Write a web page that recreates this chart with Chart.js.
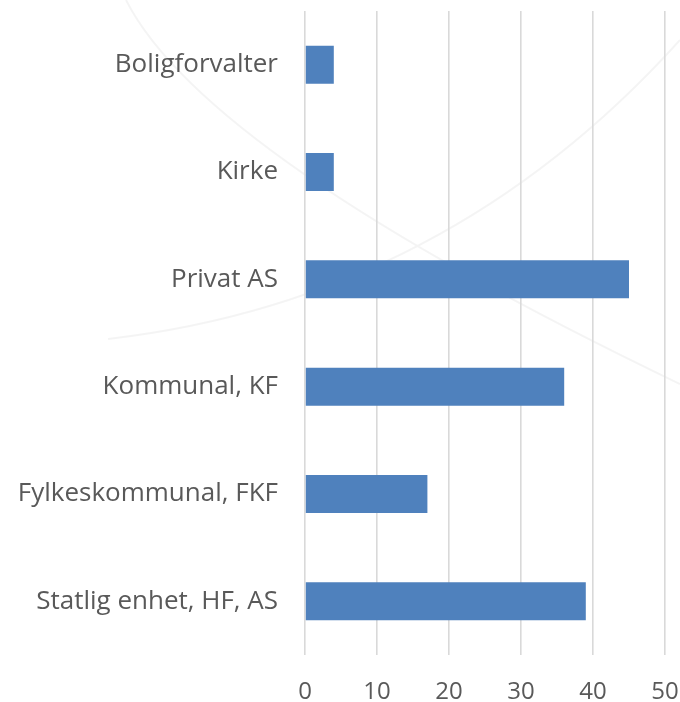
<!DOCTYPE html>
<html>
<head>
<meta charset="utf-8">
<script src="https://cdn.jsdelivr.net/npm/chart.js@4"></script>
<style>
  html, body { margin: 0; padding: 0; background: #fff; }
  #wrap { width: 680px; height: 702px; }
</style>
</head>
<body>
<div id="wrap"><canvas id="chart"></canvas></div>
<script>
// data
const categories = ['Boligforvalter', 'Kirke', 'Privat AS', 'Kommunal, KF', 'Fylkeskommunal, FKF', 'Statlig enhet, HF, AS'];
const values = [4, 4, 45, 36, 17, 39];
const xTicks = [0, 10, 20, 30, 40, 50];

const FONT = "'Open Sans', 'Liberation Sans', sans-serif";
const TEXT = '#595959';

// faint background swooshes (slide watermark)
const swoosh = {
  id: 'swoosh',
  beforeDraw(chart) {
    const c = chart.ctx;
    c.save();
    c.strokeStyle = 'rgba(0,0,0,0.045)';
    c.lineWidth = 2;
    c.beginPath();
    c.moveTo(126, 0);
    c.quadraticCurveTo(205, 156, 680, 384);
    c.moveTo(108, 339);
    c.quadraticCurveTo(446, 300, 680, 40);
    c.stroke();
    c.restore();
  }
};

const ctx = document.getElementById('chart').getContext('2d');
new Chart(ctx, {
  type: 'bar',
  data: {
    labels: categories,
    datasets: [{
      data: values,
      backgroundColor: '#4F81BD',
      borderWidth: 0,
      barPercentage: 0.354,
      categoryPercentage: 1
    }]
  },
  options: {
    indexAxis: 'y',
    responsive: true,
    maintainAspectRatio: false,
    animation: false,
    layout: { padding: { top: 0, right: 15, left: 0, bottom: 0 } },
    plugins: { legend: { display: false }, tooltip: { enabled: false } },
    scales: {
      x: {
        min: 0, max: 50,
        afterBuildTicks: s => { s.ticks = xTicks.map(v => ({ value: v })); },
        afterFit: s => { s.height = 47; },
        grid: { color: '#d9d9d9', lineWidth: 1.6, drawTicks: true, tickLength: 23, tickColor: 'transparent' },
        border: { display: false },
        ticks: { color: TEXT, padding: 0, font: { family: FONT, size: 24 } }
      },
      y: {
        afterFit: s => { s.width = 305; },
        grid: { display: true, drawOnChartArea: false, drawTicks: true, tickLength: 27, tickColor: 'transparent' },
        border: { display: false },
        ticks: { color: TEXT, padding: 0, font: { family: FONT, size: 26, lineHeight: 0.85 } }
      }
    }
  },
  plugins: [swoosh]
});
</script>
</body>
</html>
